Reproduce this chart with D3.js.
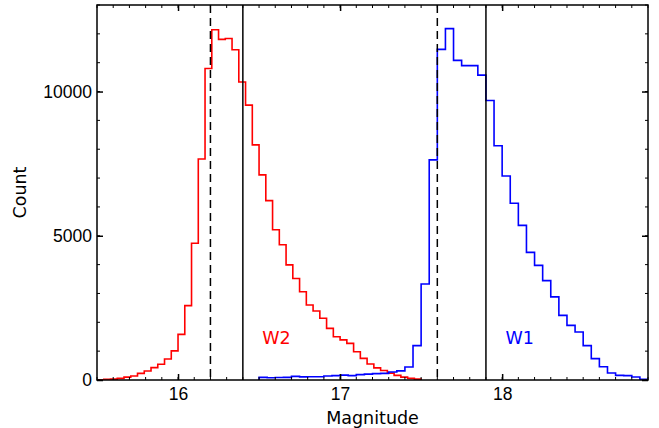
<!DOCTYPE html>
<html>
<head>
<meta charset="utf-8">
<script src="https://cdn.jsdelivr.net/npm/d3@7"></script>
<style>
  body { margin: 0; background: #fff; }
  svg { display: block; font-family: "DejaVu Sans", sans-serif; }
  .tick text { font-size: 17.5px; fill: #000; }
</style>
</head>
<body>
<div id="chart"></div>
<script>
// histogram ranges (magnitude), 48 bins each
const w2Range = [15.5, 17.5];
const w1Range = [16.5, 18.9];

// counts per bin
const w2Counts = [10, 20, 30, 55, 100, 140, 230, 310, 430, 545, 730, 1010,
  1580, 2580, 4740, 7660, 10800, 12140, 11810, 11840, 11450, 10330, 9530, 8150,
  7110, 6220, 5210, 4690, 3990, 3520, 3060, 2600, 2390, 2140, 1790, 1500,
  1390, 1270, 980, 750, 555, 420, 330, 240, 160, 100, 58, 30];
const w1Counts = [90, 80, 85, 92, 125, 110, 115, 115, 140, 150, 170, 150,
  185, 205, 220, 230, 275, 315, 450, 1190, 3330, 7630, 11460, 12180,
  11080, 10900, 10900, 10570, 9690, 8120, 7070, 6125, 5360, 4425, 3975, 3445,
  2880, 2240, 1895, 1665, 1190, 740, 460, 245, 160, 150, 105, 20];

// reference lines: dashed = peak, solid = limit
const w2Lines = { dashed: 16.2, solid: 16.4 };
const w1Lines = { dashed: 17.6, solid: 17.9 };

const xTicks = [16, 17, 18];
const yTicks = [0, 5000, 10000];

var margin = { top: 5, right: 11, bottom: 48, left: 97 },
    width = 659 - margin.left - margin.right,
    height = 428 - margin.top - margin.bottom;

var svg = d3.select("#chart").append("svg")
    .attr("width", 659)
    .attr("height", 428);

var g = svg.append("g")
    .attr("transform", "translate(" + margin.left + "," + margin.top + ")");

var x = d3.scaleLinear().domain([15.5, 18.9]).range([0, width]);
var y = d3.scaleLinear().domain([0, 13000]).range([height, 0]);

g.append("clipPath").attr("id", "clip")
  .append("rect").attr("width", width).attr("height", height);

// turn counts into step outline points
function steps(range, counts) {
  var n = counts.length, step = (range[1] - range[0]) / n;
  var pts = [[range[0], 0]];
  counts.forEach(function (c, i) {
    pts.push([range[0] + i * step, c]);
    pts.push([range[0] + (i + 1) * step, c]);
  });
  pts.push([range[1], 0]);
  return pts;
}

var line = d3.line().x(d => x(d[0])).y(d => y(d[1]));

var plot = g.append("g").attr("clip-path", "url(#clip)");

plot.append("path").datum(steps(w2Range, w2Counts))
  .attr("d", line).attr("fill", "none")
  .attr("stroke", "#ff0000").attr("stroke-width", 1.6);

plot.append("path").datum(steps(w1Range, w1Counts))
  .attr("d", line).attr("fill", "none")
  .attr("stroke", "#0000ff").attr("stroke-width", 1.6);

[w2Lines, w1Lines].forEach(function (l) {
  plot.append("line")
    .attr("x1", x(l.dashed)).attr("x2", x(l.dashed))
    .attr("y1", 0).attr("y2", height)
    .attr("stroke", "#000").attr("stroke-width", 1.5)
    .attr("stroke-dasharray", "8,5");
  plot.append("line")
    .attr("x1", x(l.solid)).attr("x2", x(l.solid))
    .attr("y1", 0).attr("y2", height)
    .attr("stroke", "#000").attr("stroke-width", 1.5);
});

// axes, ticks pointing inward on all sides
var xMinor = d3.range(155, 190).map(v => v / 10);
var yMinor = d3.range(0, 13001, 1000);

function minorX(sel, dir) {
  sel.selectAll("line.m").data(xMinor).enter().append("line")
    .attr("x1", d => x(d)).attr("x2", d => x(d))
    .attr("y1", 0).attr("y2", dir * 3)
    .attr("stroke", "#000").attr("stroke-width", 1);
}
function minorY(sel, dir) {
  sel.selectAll("line.m").data(yMinor).enter().append("line")
    .attr("y1", d => y(d)).attr("y2", d => y(d))
    .attr("x1", 0).attr("x2", dir * 3)
    .attr("stroke", "#000").attr("stroke-width", 1);
}

var xb = g.append("g").attr("transform", "translate(0," + height + ")")
  .call(d3.axisBottom(x).tickValues(xTicks).tickFormat(d3.format("d"))
    .tickSize(-6).tickPadding(8));
minorX(xb, -1);
var xt = g.append("g")
  .call(d3.axisTop(x).tickValues(xTicks).tickFormat("").tickSize(-6));
minorX(xt, 1);
var yl = g.append("g")
  .call(d3.axisLeft(y).tickValues(yTicks).tickFormat(d3.format("d"))
    .tickSize(-6).tickPadding(5));
minorY(yl, 1);
var yr = g.append("g").attr("transform", "translate(" + width + ",0)")
  .call(d3.axisRight(y).tickValues(yTicks).tickFormat("").tickSize(-6));
minorY(yr, -1);

g.selectAll(".domain").remove();
g.selectAll(".tick line").attr("stroke-width", 1.5);

g.append("rect").attr("width", width).attr("height", height)
  .attr("fill", "none").attr("stroke", "#000").attr("stroke-width", 1.5);

// labels
g.append("text").attr("x", x(16.52)).attr("y", y(1250))
  .attr("fill", "#ff0000").attr("font-size", 17.5).text("W2");
g.append("text").attr("x", x(18.02)).attr("y", y(1250))
  .attr("fill", "#0000ff").attr("font-size", 17.5).text("W1");

svg.append("text").attr("x", margin.left + width / 2).attr("y", 424)
  .attr("text-anchor", "middle").attr("font-size", 17.5).text("Magnitude");
svg.append("text")
  .attr("transform", "translate(26," + (margin.top + height / 2) + ") rotate(-90)")
  .attr("text-anchor", "middle").attr("font-size", 17.5).text("Count");
</script>
</body>
</html>
